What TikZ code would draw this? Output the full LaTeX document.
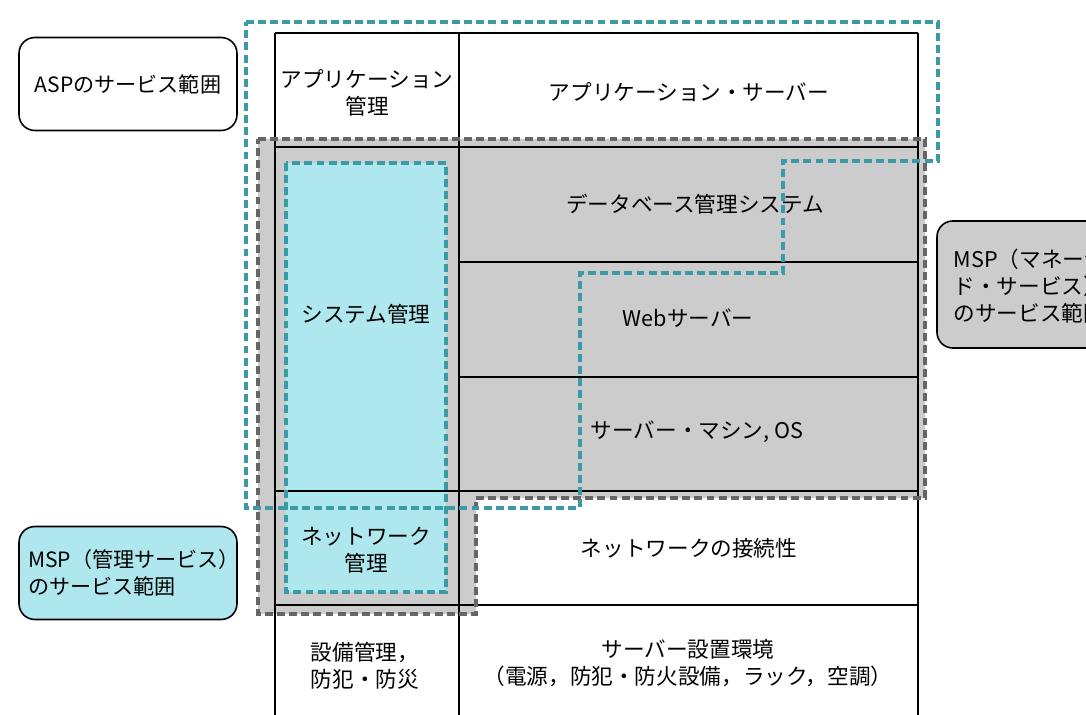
\documentclass[tikz,border=0pt]{standalone}
\usepackage{fontspec}
\setmainfont{Noto Sans CJK JP}
\definecolor{mspgray}{HTML}{CCCCCC}
\definecolor{dashgray}{HTML}{666666}
\definecolor{aspteal}{HTML}{3A9AA6}
\definecolor{msplight}{HTML}{AEE8EE}

\begin{document}
\begin{tikzpicture}[x=0.02cm, y=-0.02cm, thick,
  lbl/.style={font=\fontsize{12.3}{15.3}\selectfont, align=center, inner sep=0pt},
  scopebox/.style={draw, line width=0.9pt, rounded corners=9pt, font=\fontsize{12}{15.3}\selectfont,
    minimum width=4.36cm, minimum height=1.86cm, inner sep=0pt},
  grayline/.style={dashgray, line width=2pt, dash pattern=on 4.5pt off 2.4pt},
  tealline/.style={aspteal, line width=2pt, dash pattern=on 4.5pt off 2.4pt}]

\useasboundingbox (0,0) rectangle (1086,715);
\clip (0,0) rectangle (1086,715);

\fill[mspgray] (258,139) -- (925,139) -- (925,498) -- (476,498) -- (476,614) -- (258,614) -- cycle;
\fill[msplight] (286,163) rectangle (446,592);

\draw (275,33) -- (918,33);
\draw (275,33) -- (275,715);
\draw (459,33) -- (459,715);
\draw (918,33) -- (918,715);
\draw (275,147) -- (918,147);
\draw (459,262) -- (918,262);
\draw (459,377) -- (918,377);
\draw (275,491) -- (918,491);
\draw (275,605) -- (918,605);

\draw[grayline] (258,139) -- (925,139) -- (925,498) -- (476,498) -- (476,614) -- (258,614) -- cycle;
\draw[tealline] (286,163) rectangle (446,592);
\draw[tealline] (246,22) -- (938,22) -- (938,161) -- (783,161) -- (783,273) -- (580,273) -- (580,508) -- (246,508) -- cycle;

\node[lbl] (appmgmt) at (367,93) {アプリケーション\\管理};
\node[lbl] (appsrv) at (689,92) {アプリケーション・サーバー};
\node[lbl] (dbms) at (695,204) {データベース管理システム};
\node[lbl] (sysmgmt) at (366,314) {システム管理};
\node[lbl] (websrv) at (688,318) {Webサーバー};
\node[lbl] (machine) at (697,432) {サーバー・マシン, OS};
\node[lbl] (netmgmt) at (366,550) {ネットワーク\\管理};
\node[lbl] (netconn) at (689,548) {ネットワークの接続性};
\node[lbl, align=left] (facility) at (365,666) {設備管理，\\防犯・防災};
\node[lbl] (siteenv) at (688,663) {サーバー設置環境\\（電源，防犯・防火設備，ラック，空調）};

\node[scopebox, fill=white] (asp) at (128,84) {ASPのサービス範囲};
\node[scopebox, fill=msplight, align=left, text width=4cm] (mspmgmt) at (128,573) {MSP（管理サービス）\\のサービス範囲};
\draw[line width=0.9pt, rounded corners=9pt, fill=mspgray] (937,221) rectangle (1160,348);
\node[lbl, align=left, anchor=west] (mspmanaged) at (953,286) {MSP（マネージ\\ド・サービス）\\のサービス範囲};

\end{tikzpicture}
\end{document}
